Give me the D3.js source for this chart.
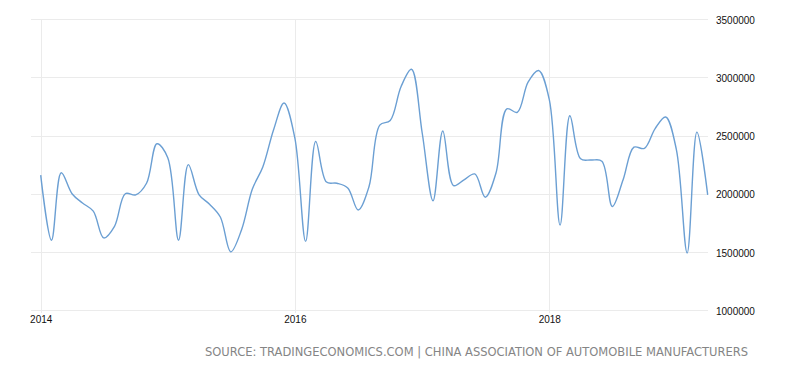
<!DOCTYPE html>
<html>
<head>
<meta charset="utf-8">
<script src="https://cdn.jsdelivr.net/npm/d3@7"></script>
<style>
  body { margin: 0; background: #fff; }
  svg { display: block; }
  .grid line { stroke: #ebebeb; stroke-width: 1; shape-rendering: crispEdges; }
  .axis text { font-family: "Liberation Sans", Arial, sans-serif; font-size: 10px; fill: #111; }
  .source { font-family: "DejaVu Sans Condensed", "DejaVu Sans", sans-serif; font-size: 12.5px; fill: #858585; }
</style>
</head>
<body>
<div id="chart"></div>
<script>
const width = 800;
const height = 372;

// monthly vehicle sales, Jan 2014 .. Apr 2019
const sales2014 = [2160000, 1600000, 2180000, 2000000, 1920000, 1850000, 1620000, 1720000, 2000000, 1990000, 2090000, 2430000];
const sales2015 = [2310000, 1600000, 2250000, 1990000, 1910000, 1800000, 1500000, 1690000, 2040000, 2230000, 2550000, 2780000];
const sales2016 = [2480000, 1590000, 2450000, 2100000, 2090000, 2050000, 1860000, 2060000, 2590000, 2630000, 2920000, 3070000];
const sales2017 = [2520000, 1940000, 2540000, 2070000, 2120000, 2170000, 1970000, 2180000, 2730000, 2700000, 2960000, 3060000];
const sales2018 = [2810000, 1730000, 2670000, 2300000, 2290000, 2280000, 1890000, 2120000, 2400000, 2390000, 2560000, 2660000];
const sales2019 = [2380000, 1490000, 2530000, 1990000];

const yTicks = [1000000, 1500000, 2000000, 2500000, 3000000, 3500000];
const xTickYears = [2014, 2016, 2018];
const sourceText = 'SOURCE: TRADINGECONOMICS.COM | CHINA ASSOCIATION OF AUTOMOBILE MANUFACTURERS';

const values = [].concat(sales2014, sales2015, sales2016, sales2017, sales2018, sales2019);
const months = d3.timeMonth.range(new Date(2014, 0, 1), new Date(2014, values.length, 1));
const data = months.map((m, i) => ({ date: m, value: values[i] }));

const svg = d3.select('#chart').append('svg')
  .attr('width', width)
  .attr('height', height);

const x = d3.scaleTime()
  .domain([new Date(2014, 0, 1), new Date(2019, 3, 1)])
  .range([40.7, 707.7]);

const y = d3.scaleLinear()
  .domain([1000000, 3500000])
  .range([310, 19.3]);

// horizontal grid
svg.append('g')
  .attr('class', 'grid')
  .selectAll('line')
  .data(yTicks)
  .join('line')
  .attr('x1', 31)
  .attr('x2', 708)
  .attr('y1', (d) => Math.round(y(d)) + 0.5)
  .attr('y2', (d) => Math.round(y(d)) + 0.5);

// vertical grid at year ticks
svg.append('g')
  .attr('class', 'grid')
  .selectAll('line')
  .data(xTickYears)
  .join('line')
  .attr('x1', (d) => Math.round(x(new Date(d, 0, 1))) + 0.5)
  .attr('x2', (d) => Math.round(x(new Date(d, 0, 1))) + 0.5)
  .attr('y1', 19)
  .attr('y2', 313);

// y labels on the right
const yAxis = d3.axisRight(y)
  .tickValues(yTicks)
  .tickSize(0)
  .tickPadding(0)
  .tickFormat(d3.format('d'));

svg.append('g')
  .attr('class', 'axis')
  .attr('transform', 'translate(716,1)')
  .call(yAxis)
  .call((g) => g.select('.domain').remove());

// x labels
const xAxis = d3.axisBottom(x)
  .tickValues(xTickYears.map((yr) => new Date(yr, 0, 1)))
  .tickSize(0)
  .tickPadding(0)
  .tickFormat(d3.timeFormat('%Y'));

svg.append('g')
  .attr('class', 'axis')
  .attr('transform', 'translate(0,316)')
  .call(xAxis)
  .call((g) => g.select('.domain').remove());

// the series
const line = d3.line()
  .x((d) => x(d.date))
  .y((d) => y(d.value))
  .curve(d3.curveCatmullRom.alpha(0.5));

svg.append('path')
  .datum(data)
  .attr('fill', 'none')
  .attr('stroke', '#6b9fd3')
  .attr('stroke-width', 1.4)
  .attr('stroke-linejoin', 'round')
  .attr('d', line);

svg.append('text')
  .attr('class', 'source')
  .attr('x', 205)
  .attr('y', 356)
  .attr('textLength', 543)
  .attr('lengthAdjust', 'spacingAndGlyphs')
  .text(sourceText);
</script>
</body>
</html>
